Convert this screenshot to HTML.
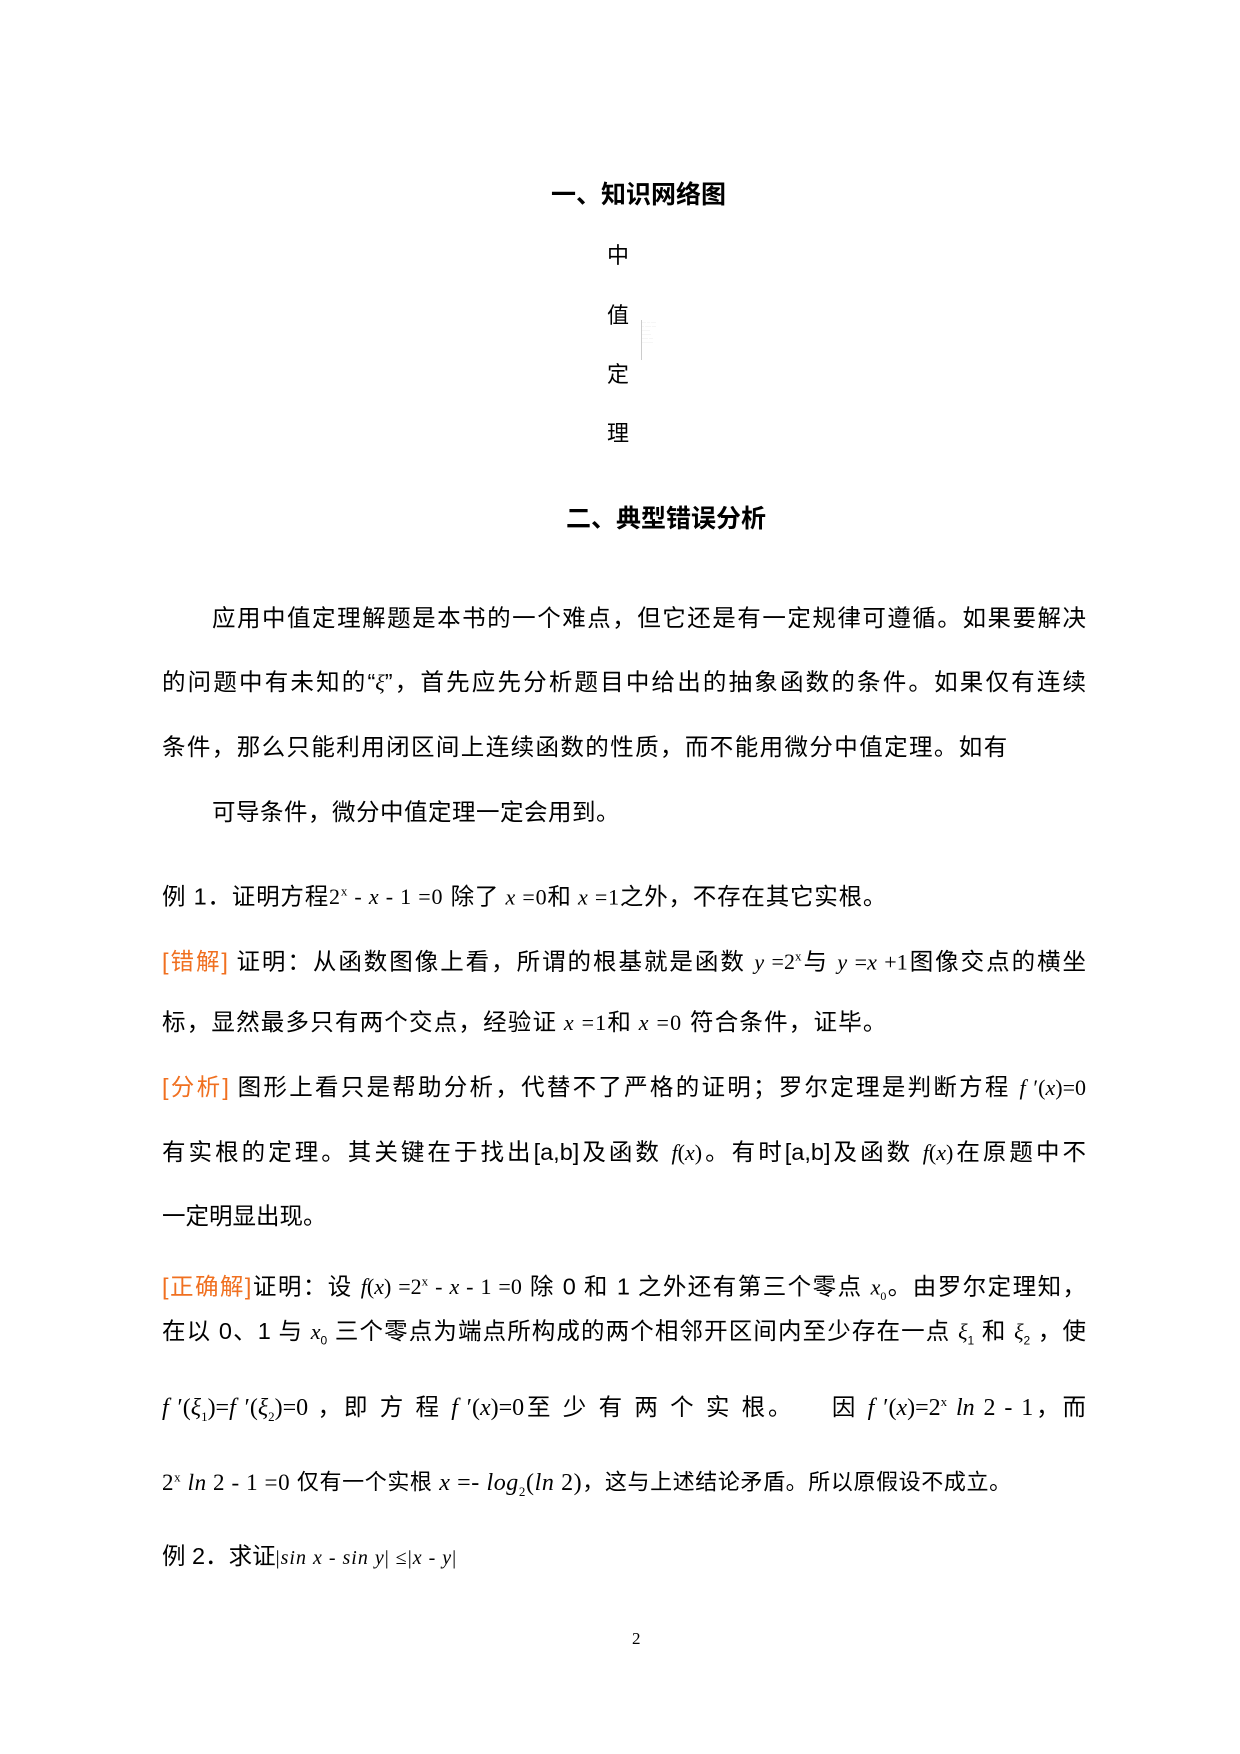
<!DOCTYPE html>
<html><head><meta charset="utf-8"><style>
body{margin:0;width:1240px;height:1754px;background:#fff;position:relative;font-family:"Liberation Sans","Noto Sans CJK SC",sans-serif;color:#000}
.l{position:absolute;font-size:23.5px;line-height:30px;white-space:nowrap}
.j{width:924px;text-align:justify;text-align-last:justify}
.h{position:absolute;font-size:25px;font-weight:bold;line-height:30px}
.m{font-family:"Liberation Serif",serif;font-style:italic;font-size:22px}
.n{font-family:"Liberation Serif",serif;font-size:22px}
.o{color:#f07020}
sup,sub{font-size:13px}
.v{position:absolute;font-size:22px;left:607px}
</style></head><body>
<div class="h" style="left:551px;top:180px">一、知识网络图</div>
<div class="v" style="top:238px">中</div>
<div class="v" style="top:298px">值</div>
<div class="v" style="top:357px">定</div>
<div class="v" style="top:416px">理</div>
<div style="position:absolute;left:641px;top:320px;width:40px;height:40px;border-left:1px solid #ccc;font-size:3px;color:#888;line-height:4px">···· ··· ·····<br>·· ······ ····<br>········<br>·········<br>······ ····<br>···········</div>
<div class="h" style="left:566px;top:504px">二、典型错误分析</div>
<div class="l" style="left:212px;top:603px;width:874px;text-align:justify;text-align-last:justify">应用中值定理解题是本书的一个难点，但它还是有一定规律可遵循。如果要解决</div>
<div class="l j" style="left:162px;top:667px">的问题中有未知的“<span class="m">ξ</span>”，首先应先分析题目中给出的抽象函数的条件。如果仅有连续</div>
<div class="l" style="left:162px;top:732px;letter-spacing:1.4px">条件，那么只能利用闭区间上连续函数的性质，而不能用微分中值定理。如有</div>
<div class="l" style="left:212px;top:797px;letter-spacing:0.5px">可导条件，微分中值定理一定会用到。</div>
<div class="l" style="left:162px;top:877px;letter-spacing:0.8px">例 1．证明方程<span class="n">2<sup>x</sup> - <i>x</i> - 1 =0</span> 除了<span class="m"> x</span><span class="n"> =0</span>和<span class="m"> x</span><span class="n"> =1</span>之外，不存在其它实根。</div>
<div class="l j" style="left:162px;top:942px"><span class="o">[错解]</span> 证明：从函数图像上看，所谓的根基就是函数 <span class="m">y</span><span class="n"> =2<sup>x</sup></span>与 <span class="m">y</span><span class="n"> =<i>x</i> +1</span>图像交点的横坐</div>
<div class="l" style="left:162px;top:1007px;letter-spacing:1.2px">标，显然最多只有两个交点，经验证<span class="m"> x</span><span class="n"> =1</span>和<span class="m"> x</span><span class="n"> =0</span> 符合条件，证毕。</div>
<div class="l j" style="left:162px;top:1072px"><span class="o">[分析]</span> 图形上看只是帮助分析，代替不了严格的证明；罗尔定理是判断方程 <span class="n"><i>f</i> ′(<i>x</i>)=0</span></div>
<div class="l j" style="left:162px;top:1137px">有实根的定理。其关键在于找出[a,b]及函数 <span class="n"><i>f</i>(<i>x</i>)</span>。有时[a,b]及函数 <span class="n"><i>f</i>(<i>x</i>)</span>在原题中不</div>
<div class="l" style="left:162px;top:1201px">一定明显出现。</div>
<div class="l j" style="left:162px;top:1267px"><span class="o">[正确解]</span>证明：设 <span class="n"><i>f</i>(<i>x</i>) =2<sup>x</sup> - <i>x</i> - 1 =0</span> 除 0 和 1 之外还有第三个零点 <span class="m">x</span><sub class="n" style="font-size:12px">0</sub>。由罗尔定理知，</div>
<div class="l j" style="left:162px;top:1316px">在以 0、1 与 <span class="m">x</span><sub style="font-size:12px">0</sub> 三个零点为端点所构成的两个相邻开区间内至少存在一点 <span class="m">ξ</span><sub style="font-size:12px">1</sub> 和 <span class="m">ξ</span><sub style="font-size:12px">2</sub> ，使</div>
<div class="l j" style="left:162px;top:1387px"><span class="n" style="font-size:24px"><i>f</i> ′(<i>ξ</i><sub>1</sub>)=<i>f</i> ′(<i>ξ</i><sub>2</sub>)=0</span> ，即 方 程 <span class="n" style="font-size:24px"><i>f</i> ′(<i>x</i>)=0</span>至 少 有 两 个 实 根。&nbsp;&nbsp;&nbsp; 因 <span class="n" style="font-size:24px"><i>f</i> ′(<i>x</i>)=2<sup>x</sup> <i>ln</i> 2 - 1</span>，而</div>
<div class="l" style="left:162px;top:1462px;font-size:22px;letter-spacing:0.6px"><span class="n" style="font-size:23px">2<sup>x</sup> <i>ln</i> 2 - 1 =0</span> 仅有一个实根 <span class="n" style="font-size:24px"><i>x</i> =- <i>log</i><sub>2</sub>(<i>ln</i> 2)</span>，这与上述结论矛盾。所以原假设不成立。</div>
<div class="l" style="left:162px;top:1541px">例 2．求证<span class="n" style="font-size:20px;letter-spacing:1px">|<i>sin x</i> - <i>sin y</i>| ≤|<i>x</i> - <i>y</i>|</span></div>
<div style="position:absolute;left:632px;top:1629px;font-family:'Liberation Serif',serif;font-size:17px">2</div>
</body></html>
